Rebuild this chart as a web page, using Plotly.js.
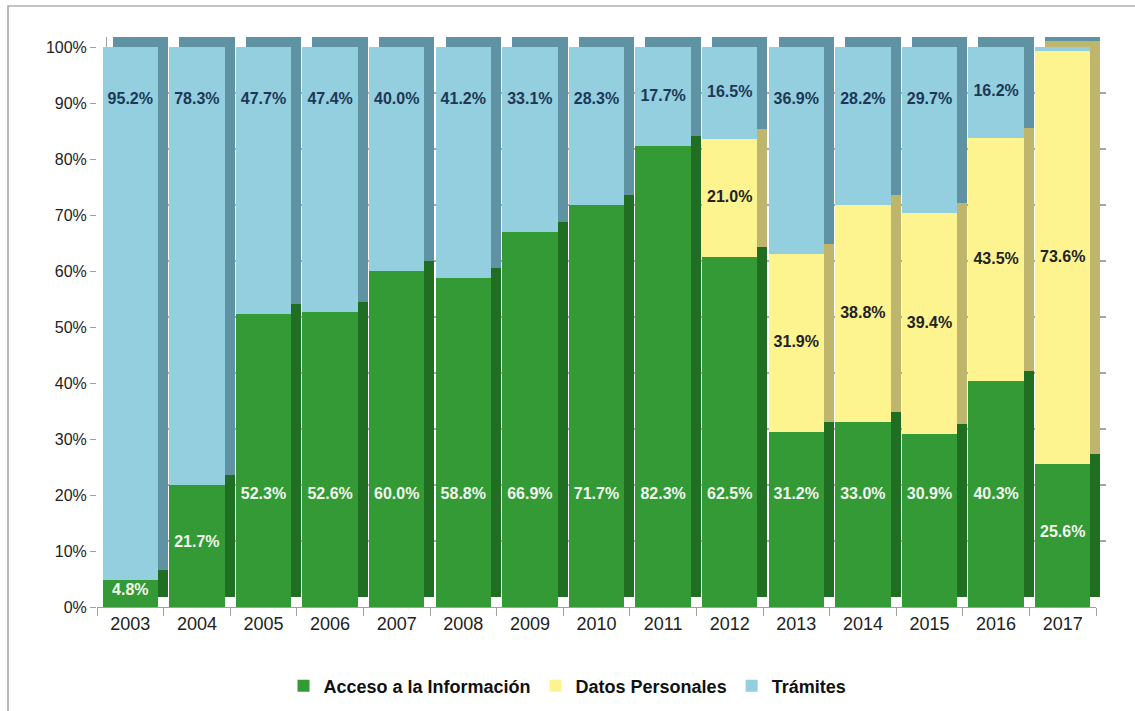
<!DOCTYPE html>
<html><head><meta charset="utf-8">
<script src="https://cdn.plot.ly/plotly-3.0.1.min.js"></script>
<style>body{margin:0;background:#fff}#c{width:1135px;height:711px}</style>
</head><body><div id="c"></div>
<script>
const years = ['2003','2004','2005','2006','2007','2008','2009','2010','2011','2012','2013','2014','2015','2016','2017'];
const acceso = [4.8,21.7,52.3,52.6,60.0,58.8,66.9,71.7,82.3,62.5,31.2,33.0,30.9,40.3,25.6];
const datos  = [0,0,0,0,0,0,0,0,0,21.0,31.9,38.8,39.4,43.5,73.6];
const tramites = [95.2,78.3,47.7,47.4,40.0,41.2,33.1,28.3,17.7,16.5,36.9,28.2,29.7,16.2,0.8];
const yTicks = [0,10,20,30,40,50,60,70,80,90,100];
const yTickText = yTicks.map(v => v + '%');

const W = 1135, H = 711;
const fL = 97, fR = 1096, fB = 607, fT = 47;
const dx = 10, dy = 10;
const px = v => v / W, py = v => (H - v) / H;

const cols = {
  acc: {front:'#349a36', side:'#1f6e22'},
  dat: {front:'#fdf490', side:'#bdb66c'},
  tra: {front:'#93cfde', side:'#5f93a3'}
};
const font = "'Liberation Sans Narrow','Arial Narrow','Liberation Sans',Arial,sans-serif";
const barW = 0.83;
const xRange = [-0.5, years.length - 0.5];

function bar(name, vals, color, xa, ya, legend) {
  return {type:'bar', name:name, x:years, y:vals, xaxis:xa, yaxis:ya, width:barW,
    marker:{color:color, line:{width:0}}, showlegend:legend, hoverinfo:'skip', textposition:'none'};
}
const traces = [
  bar('Acceso a la Información', acceso, cols.acc.side, 'x', 'y', false),
  bar('Datos Personales', datos, cols.dat.side, 'x', 'y', false),
  bar('Trámites', tramites, cols.tra.side, 'x', 'y', false),
  bar('Acceso a la Información', acceso, cols.acc.front, 'x2', 'y2', true),
  bar('Datos Personales', datos, cols.dat.front, 'x2', 'y2', true),
  bar('Trámites', tramites, cols.tra.front, 'x2', 'y2', true)
];

const fmt = v => v.toFixed(1) + '%';
const accY = acceso.map(v => v >= 30 ? 20 : v / 2 + 0.5);
const datIdx = years.map((y,i)=>i).filter(i => datos[i] > 0);
const datY = datIdx.map(i => acceso[i] + datos[i] / 2);
const traY = tramites.map((v,i) => v < 3 ? 104.5 : Math.max(100 - v / 2, 90.5));
traces.push({type:'scatter', mode:'text', x:years, y:accY, text:acceso.map(fmt), xaxis:'x2', yaxis:'y2',
  textfont:{family:font, size:16, color:'#f2f5ee', weight:'bold'}, showlegend:false, hoverinfo:'skip', cliponaxis:false});
traces.push({type:'scatter', mode:'text', x:datIdx.map(i=>years[i]), y:datY, text:datIdx.map(i=>fmt(datos[i])), xaxis:'x2', yaxis:'y2',
  textfont:{family:font, size:16, color:'#222222', weight:'bold'}, showlegend:false, hoverinfo:'skip', cliponaxis:false});
traces.push({type:'scatter', mode:'text', x:years, y:traY, text:tramites.map(fmt), xaxis:'x2', yaxis:'y2',
  textfont:{family:font, size:16, color:'#1d3856', weight:'bold'}, showlegend:false, hoverinfo:'skip', cliponaxis:false});

const layout = {
  width:W, height:H, margin:{l:0,r:0,t:0,b:0},
  paper_bgcolor:'#fff', plot_bgcolor:'rgba(0,0,0,0)',
  barmode:'stack',
  font:{family:font, color:'#333'},
  xaxis:{domain:[px(fL+dx), px(fR+dx)], anchor:'y', type:'category', range:xRange, autorange:false,
    showgrid:false, showticklabels:false, zeroline:false, showline:false, fixedrange:true},
  yaxis:{domain:[py(fB-dy), py(fT-dy)], anchor:'x', range:[0,100], tickvals:yTicks, showticklabels:false,
    showgrid:true, gridcolor:'#a5a5a5', gridwidth:1.2, zeroline:false, showline:true, linecolor:'#a0a0a0', linewidth:1.2,
    fixedrange:true},
  xaxis2:{domain:[px(fL), px(fR)], anchor:'y2', type:'category', range:xRange, autorange:false,
    showgrid:false, showline:true, linecolor:'#a0a0a0',
    linewidth:1.2, ticks:'outside', tickson:'boundaries', ticklen:8, tickcolor:'#a0a0a0',
    tickfont:{family:font, size:18, color:'#222'}, fixedrange:true},
  yaxis2:{domain:[py(fB), py(fT)], anchor:'x2', range:[0,100], autorange:false, tickvals:yTicks, ticktext:yTickText,
    showgrid:false, zeroline:false, showline:false, ticks:'outside', ticklen:6, tickcolor:'#a0a0a0',
    tickfont:{family:'Liberation Sans, Arial, sans-serif', size:16, color:'#222'}, fixedrange:true},
  legend:{orientation:'h', x:0.5, xanchor:'center', y:py(686), yanchor:'middle',
    font:{family:font, size:18, color:'#111', weight:'bold'}, traceorder:'normal'},
  shapes:[
    {type:'rect', xref:'paper', yref:'paper', x0:px(8), x1:px(1140), y0:py(6), y1:py(720),
     line:{color:'#8c8c8c', width:1.2}, fillcolor:'rgba(0,0,0,0)', layer:'below'}
  ]
};
Plotly.newPlot('c', traces, layout, {displayModeBar:false, staticPlot:true});
</script></body></html>
